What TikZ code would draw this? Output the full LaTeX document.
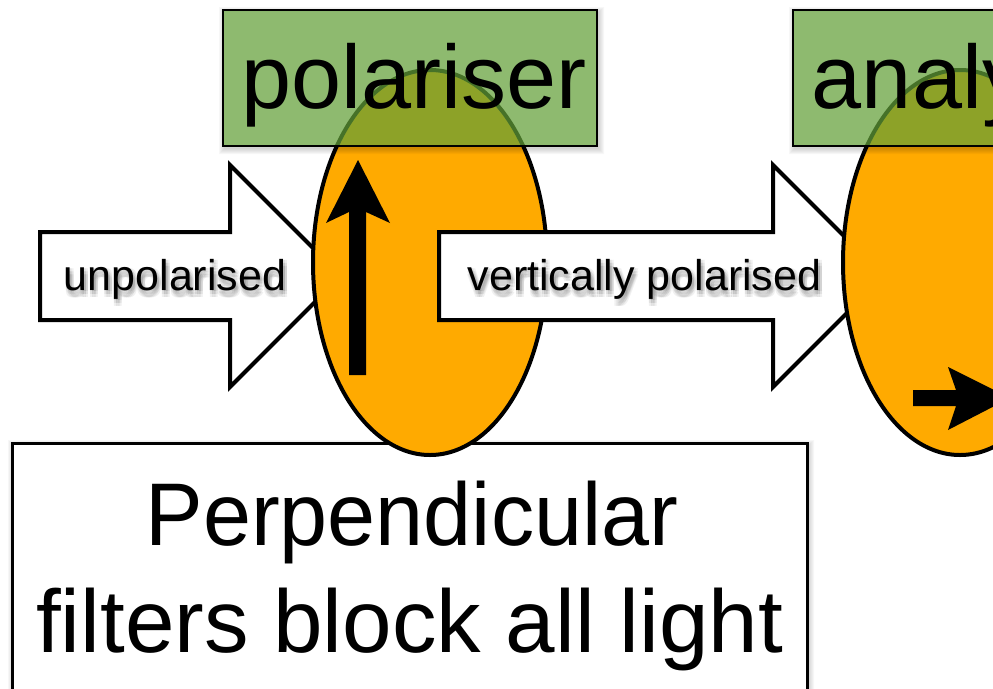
\documentclass[tikz,border=0pt]{standalone}
\usepackage{fontspec}
\setmainfont{Liberation Sans}
\usetikzlibrary{shapes.geometric}

\definecolor{filterorange}{RGB}{255,170,0}
\definecolor{labelgreen}{RGB}{98,159,56}

% soft shadow round a rectangle given by its corners (x1,y1) (x2,y2);
% only the ring outside the rectangle is shaded
\newcommand\softshade[4]{%
  \foreach \g in {1,...,6}{%
    \fill[black, opacity=0.03, even odd rule]
      (#1-\g+2,#2-\g+3) rectangle (#3+\g+1,#4+\g+2)
      (#1,#2) rectangle (#3,#4);
  }}

% arrow caption with a blurred drop shadow: name, base point, text
\newcommand\shadowlabel[3]{%
  \foreach \dx/\dy in {0/1,2/1,4/1,0/4,2/4,4/4,0/7,2/7,4/7}{%
    \node[arrowtext, text=black, opacity=0.06] at ([shift={(\dx,\dy)}]#2) {#3};
  }
  \node[arrowtext] (#1) at (#2) {#3};}

\begin{document}
\begin{tikzpicture}[x=1pt, y=-1pt,
  blockarrow/.style={draw=black, fill=white, line width=4pt, line join=miter},
  filter/.style={ellipse, draw=black, fill=filterorange, line width=4pt,
    inner sep=0pt, minimum width=234pt, minimum height=385pt},
  greenbox/.style={rectangle, draw=black, line width=2.5pt,
    fill=labelgreen, fill opacity=0.72, inner sep=0pt,
    minimum width=374pt, minimum height=136pt},
  notebox/.style={rectangle, draw=black, line width=3pt, fill=white,
    inner sep=0pt, minimum width=795pt, minimum height=262pt},
  arrowtext/.style={anchor=base, inner sep=0pt,
    font=\fontsize{43}{50}\selectfont},
  titletext/.style={anchor=base, inner sep=0pt,
    font=\fontsize{90}{100}\selectfont},
  notetext/.style={anchor=base, inner sep=0pt,
    font=\fontsize{89}{100}\selectfont},
  direction/.style={fill=black, draw=none}
]
\useasboundingbox (0,0) rectangle (993,688);
\clip (0,0) rectangle (993,688);

% statement box at the bottom
\softshade{12}{443}{807}{705}
\node[notebox] (note) at (409.5,574) {};
\node[notetext, xscale=0.97] (noteA) at (412,545) {Perpendicular};
\node[notetext] (noteB) at (409.5,652) {filters block all light};

% incoming light
\draw[blockarrow] (40,232) -- (230,232) -- (230,165) -- (341,276)
  -- (230,387) -- (230,320) -- (40,320) -- cycle;
\shadowlabel{unpol}{175,290}{unpolarised}

% first filter with its vertical transmission axis
\node[filter] (polfilter) at (430,262.5) {};
\fill[direction] (349,375) -- (349,212) -- (326,223) -- (358,160)
  -- (390,223) -- (366,212) -- (366,375) -- cycle;

% light leaving the polariser
\draw[blockarrow] (439,232) -- (773,232) -- (773,165) -- (884,276)
  -- (773,387) -- (773,320) -- (439,320) -- cycle;
\shadowlabel{vertpol}{644.5,290}{vertically polarised}

% second filter with its horizontal transmission axis
\node[filter] (anafilter) at (960,262.5) {};
\fill[direction] (913,390) -- (956,390) -- (948,367) -- (1010,398)
  -- (948,430) -- (956,406) -- (913,406) -- cycle;

% filter names
\softshade{223}{10}{597}{146}
\node[greenbox] (polbox) at (410,78) {};
\node[titletext] (poltitle) at (414,108) {polariser};
\softshade{793}{10}{1167}{146}
\node[greenbox] (anabox) at (980,78) {};
\node[titletext] (anatitle) at (982,108) {analyser};
\end{tikzpicture}
\end{document}
